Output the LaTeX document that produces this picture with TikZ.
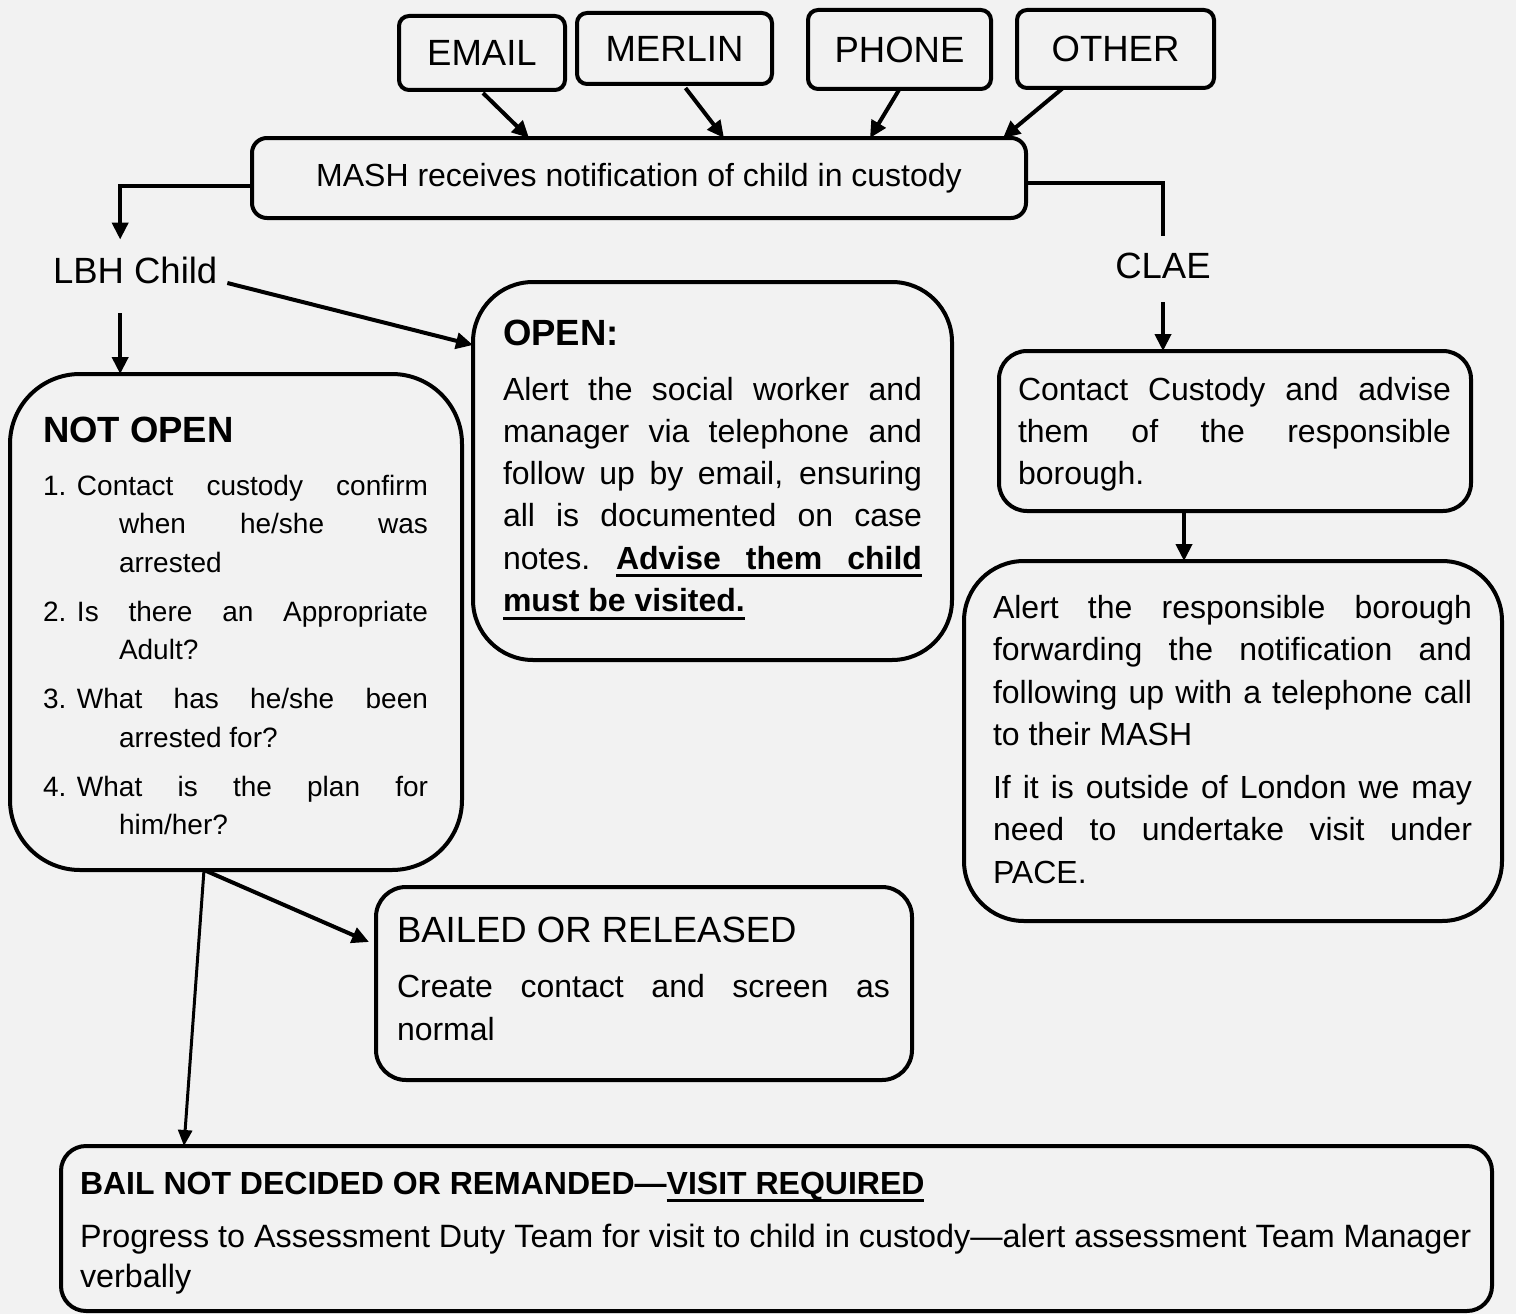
\documentclass[tikz,border=0pt]{standalone}
\usepackage{fontspec}
\setmainfont{Liberation Sans}
\usetikzlibrary{arrows.meta}
\definecolor{paper}{HTML}{F2F2F2}

% justified line of a fixed width, and a thick underline of natural width
\newsavebox\ulsave
\newcommand\jline[2]{\makebox[#1][s]{#2}}
\newcommand\ulnat[1]{\sbox\ulsave{#1}\rlap{\rule[-8pt]{\wd\ulsave}{3pt}}\usebox\ulsave}
\newcommand\linestack[1]{\begin{tabular}[t]{@{}l@{}}#1\end{tabular}}
\newcommand\fsHead{\fontsize{36.5}{44}\selectfont}
\newcommand\fsBody{\fontsize{32}{42.3}\selectfont}
\newcommand\fsList{\fontsize{28}{38.5}\selectfont}

\tikzset{
  flowbox/.style={draw=black, line width=4pt, rounded corners=#1, inner sep=0pt, outer sep=0pt},
  srcbox/.style={flowbox=10pt, font=\fsHead},
  txt/.style={inner sep=0pt, outer sep=0pt, anchor=base west},
  lbl/.style={inner sep=0pt, outer sep=0pt, font=\fsHead},
  arr/.style={line width=4pt, -{Triangle[length=17pt,width=16pt]}},
  arrthin/.style={line width=3pt, -{Triangle[length=16pt,width=14pt]}},
  plain/.style={line width=4pt}
}

\begin{document}
\begin{tikzpicture}[x=1pt,y=-1pt]
\useasboundingbox (0,0) rectangle (1516,1314);
\fill[paper] (0,0) rectangle (1516,1314);

% sources of the notification
\node[srcbox, minimum width=166pt, minimum height=74pt] (email)  at (482,53)     {EMAIL};
\node[srcbox, minimum width=195pt, minimum height=71pt] (merlin) at (674.5,48.5) {MERLIN};
\node[srcbox, minimum width=183pt, minimum height=79pt] (phone)  at (899.5,49.5) {PHONE};
\node[srcbox, minimum width=197pt, minimum height=78pt] (other)  at (1115.5,49)  {OTHER};

% MASH
\node[flowbox=15pt, minimum width=774pt, minimum height=80pt, font=\fsBody] (mash) at (639,178)
  {MASH receives notification of child in custody};

% branch labels
\node[lbl, anchor=base west] (lbh)  at (53,283)  {LBH Child};
\node[lbl, anchor=base]      (clae) at (1163,278) {CLAE};

% boxes
\node[flowbox=70pt, minimum width=452pt, minimum height=496pt]  (notopen) at (236,622) {};
\node[flowbox=60pt, minimum width=479pt, minimum height=378pt]  (open)    at (712.5,471) {};
\node[flowbox=28pt, minimum width=472pt, minimum height=160pt]  (contact) at (1235,431) {};
\node[flowbox=60pt, minimum width=538pt, minimum height=360pt]  (alert)   at (1233,741) {};
\node[flowbox=30pt, minimum width=536pt, minimum height=193pt]  (bailed)  at (644,983.5) {};
\node[flowbox=25pt, minimum width=1431pt, minimum height=165pt] (bottom)  at (776.5,1228.5) {};

% NOT OPEN
\node[txt, font=\fsHead\bfseries] (notopenHead) at (43,442) {NOT OPEN};
\node[txt] (notopenList) at (43,495) {\fsList\linestack{%
\makebox[34pt][l]{1.}\jline{351pt}{Contact custody confirm}\\
\hspace*{76pt}\jline{309pt}{when he/she was}\\
\hspace*{76pt}arrested\\[10.5pt]
\makebox[34pt][l]{2.}\jline{351pt}{Is there an Appropriate}\\
\hspace*{76pt}Adult?\\[10.5pt]
\makebox[34pt][l]{3.}\jline{351pt}{What has he/she been}\\
\hspace*{76pt}arrested for?\\[10.5pt]
\makebox[34pt][l]{4.}\jline{351pt}{What is the plan for}\\
\hspace*{76pt}him/her?}};

% OPEN
\node[txt, font=\fsHead\bfseries] (openHead) at (503,345) {OPEN:};
\node[txt] (openBody) at (503,400) {\fsBody\linestack{%
\jline{419pt}{Alert the social worker and}\\
\jline{419pt}{manager via telephone and}\\
\jline{419pt}{follow up by email, ensuring}\\
\jline{419pt}{all is documented on case}\\
\jline{419pt}{notes.\hfill\ulnat{\jline{306pt}{\bfseries Advise them child}}}\\
\ulnat{\bfseries must be visited.}}};

% CLAE branch
\node[txt] (contactBody) at (1018,400) {\fsBody\linestack{%
\jline{433pt}{Contact Custody and advise}\\
\jline{433pt}{them of the responsible}\\
borough.}};
\node[txt] (alertBody) at (993,618) {\fontsize{32}{42.5}\selectfont\linestack{%
\jline{479pt}{Alert the responsible borough}\\
\jline{479pt}{forwarding the notification and}\\
\jline{479pt}{following up with a telephone call}\\
to their MASH\\[10pt]
\jline{479pt}{If it is outside of London we may}\\
\jline{479pt}{need to undertake visit under}\\
PACE.}};

% bailed or released
\node[txt, font=\fsHead] (bailedHead) at (397,942) {BAILED OR RELEASED};
\node[txt] (bailedBody) at (397,997) {\fontsize{32}{43}\selectfont\linestack{%
\jline{493pt}{Create contact and screen as}\\
normal}};

% remanded
\node[txt, font=\fontsize{32}{40}\selectfont\bfseries] (bottomHead) at (80,1194)
  {BAIL NOT DECIDED OR REMANDED—\ulnat{VISIT REQUIRED}};
\node[txt] (bottomBody) at (80,1247) {\fontsize{32.3}{40}\selectfont\linestack{%
Progress to Assessment Duty Team for visit to child in custody—alert assessment Team Manager\\
verbally}};

% connectors
\draw[arr] ([xshift=1pt,yshift=-3pt]email.south) -- ([xshift=-110pt]mash.north);
\draw[arr] ([xshift=11pt,yshift=-4pt]merlin.south) -- ([xshift=85pt]mash.north);
\draw[arr] (phone.south) -- ([xshift=231pt]mash.north);
\draw[arr] ([xshift=-52.5pt]other.south) -- ([xshift=364pt]mash.north);

\draw[arr] ([yshift=-8pt]mash.west) -| ([xshift=-15pt,yshift=17pt]lbh.north);
\draw[plain] ([yshift=-5pt]mash.east) -| ([yshift=17pt]clae.north);

\draw[arr] ([xshift=-15pt,yshift=-30pt]lbh.south) -- ([xshift=-15pt]lbh.south |- notopen.north);
\draw[arr] ([xshift=10pt]lbh.base east) -- ([yshift=126pt]open.west);

\draw[arr] ([yshift=-24pt]clae.south) -- (clae.south |- contact.north);
\draw[arr] ([xshift=-51pt]contact.south) -- ([xshift=-51pt]contact.south |- alert.north);

\draw[arr] ([xshift=-32pt]notopen.south) -- ([xshift=-7pt,yshift=41.5pt]bailed.west);
\draw[arrthin] ([xshift=-32pt]notopen.south) -- ([xshift=-592.5pt]bottom.north);
\end{tikzpicture}
\end{document}
